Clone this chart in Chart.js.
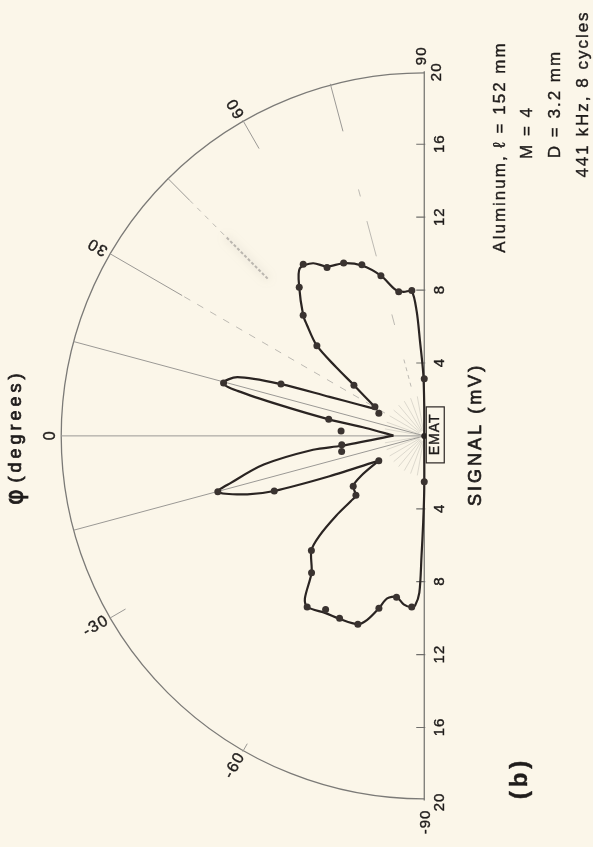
<!DOCTYPE html>
<html>
<head>
<meta charset="utf-8">
<script src="https://cdn.jsdelivr.net/npm/chart.js@4.4.1/dist/chart.umd.min.js"></script>
<style>
  html, body { margin: 0; padding: 0; background: #fbf6e9; }
  canvas { display: block; }
</style>
</head>
<body>
<canvas id="polar" width="593" height="847"></canvas>
<script>
// Measured EMAT directivity: angle phi (degrees) and received signal (mV)
const pointAngles  = [-90, -85.8, -80.2, -75.2, -70.5, -65.0, -60.3, -55.5, -50.4, -45.3, -40.9, -35.2, -28.5, -20.1, -15.1, -10.6, -6.1, 3.4, 9.8, 14.7, 19.8, 26.3, 30.4, 35.7, 39.9, 44.8, 49.8, 54.7, 59.9, 64.9, 69.9, 74.8, 79.9, 85.1, 90];
const pointSignals = [2.52, 9.42, 8.98, 9.78, 10.96, 11.04, 10.97, 11.39, 9.74, 8.84, 4.98, 4.79, 2.85, 8.80, 11.78, 4.63, 4.57, 4.59, 5.34, 11.43, 8.39, 2.79, 3.15, 4.77, 7.71, 9.40, 10.67, 11.54, 10.68, 10.47, 10.00, 9.11, 8.03, 8.01, 3.13];

// Faired curve, drawn as four strokes that meet at the cusps
const lowerWideAngles   = [-90, -90, -89.3, -88.7, -88.2, -86.9, -85.8, -83.0, -80.2, -77.1, -75.2, -72.7, -70.5, -65.0, -60.8, -55.5, -53.6, -50.4, -45.3, -43.5, -42.1, -41.5, -40.9, -35.2, -32.3, -28.5];
const lowerWideSignals  = [0, 2.9, 4.74, 6.57, 8.6, 9.32, 9.43, 9.31, 8.97, 9.15, 9.78, 10.57, 10.96, 11.07, 11.14, 11.39, 11.08, 9.74, 8.84, 7.95, 6.54, 5.39, 4.98, 4.79, 4.14, 2.85];
const lowerNarrowAngles  = [-28.5, -23.0, -20.1, -18.2, -15.1, -13.6, -10.1, -7.1, -6.8, 0.5];
const lowerNarrowSignals = [2.85, 5.67, 8.80, 10.26, 11.78, 10.96, 8.98, 6.17, 4.58, 1.7];
const upperNarrowAngles  = [0.5, 7.7, 9.8, 12.0, 13.5, 14.6, 17.4, 19.8, 22.3, 25.5, 29.2];
const upperNarrowSignals = [1.7, 3.25, 5.33, 8.11, 10.58, 11.47, 10.78, 8.39, 5.64, 3.97, 2.97];
const upperWideAngles   = [29.2, 35.7, 37.8, 39.9, 43.4, 44.8, 49.8, 53.3, 57.1, 60.0, 64.9, 69.8, 74.8, 78.8, 81.8, 85.0, 86.5, 87.4, 89.1, 90, 90];
const upperWideSignals  = [2.97, 4.77, 6.14, 7.71, 8.92, 9.40, 10.67, 11.47, 11.28, 10.73, 10.46, 9.96, 9.11, 8.18, 7.98, 7.97, 6.86, 5.22, 3.41, 1.59, 0];

// Axis ticks and labels
const signalTicks = [4, 8, 12, 16];
const signalMax = 20;
const angleTicks = [-60, -30, 0, 30, 60];
const legendLines = ['Aluminum, \u2113 = 152 mm', 'M = 4', 'D = 3.2 mm', '441 kHz, 8 cycles'];

const DEG = Math.PI / 180;
const PX_PER_MV = 18.4;
const ORIGIN = { x: 426, y: 436 };
const W = 593, H = 847;

function toXY(angles, signals) {
  return angles.map((a, i) => ({ x: -signals[i] * Math.cos(a * DEG), y: signals[i] * Math.sin(a * DEG) }));
}

function polarPx(chart, phi, r) {
  const a = phi * DEG;
  return {
    x: chart.scales.x.getPixelForValue(-r * Math.cos(a)),
    y: chart.scales.y.getPixelForValue(r * Math.sin(a))
  };
}

function spoke(ctx, chart, phi, r1, r2, color, width, dash) {
  const p1 = polarPx(chart, phi, r1), p2 = polarPx(chart, phi, r2);
  ctx.save();
  ctx.strokeStyle = color;
  ctx.lineWidth = width;
  ctx.setLineDash(dash || []);
  ctx.beginPath();
  ctx.moveTo(p1.x, p1.y);
  ctx.lineTo(p2.x, p2.y);
  ctx.stroke();
  ctx.restore();
}

// Rotated label; a thin stroke gives the heavier print weight
function rotText(ctx, txt, x, y, rotDeg, font, spacing, weight) {
  const w = weight === undefined ? 0.4 : weight;
  ctx.save();
  ctx.translate(x, y);
  ctx.rotate(rotDeg * DEG);
  ctx.font = font;
  ctx.letterSpacing = spacing + 'px';
  ctx.textAlign = 'center';
  ctx.textBaseline = 'middle';
  ctx.fillStyle = '#1f1c1b';
  ctx.strokeStyle = '#1f1c1b';
  ctx.fillText(txt, spacing / 2, 0);
  if (w > 0) {
    ctx.lineWidth = w;
    ctx.strokeText(txt, spacing / 2, 0);
  }
  ctx.restore();
}

const FONT = '"Liberation Sans", Arial, Helvetica, sans-serif';

const polarFrame = {
  id: 'polarFrame',
  beforeDraw(chart) {
    const ctx = chart.ctx;
    ctx.save();
    ctx.fillStyle = '#fbf6e9';
    ctx.fillRect(0, 0, chart.width, chart.height);
    ctx.restore();
  },
  beforeDatasetsDraw(chart) {
    const ctx = chart.ctx;
    const o = polarPx(chart, 0, 0);
    const R = o.x - polarPx(chart, 0, signalMax).x;

    // outer arc
    ctx.save();
    ctx.strokeStyle = '#7b7a77';
    ctx.lineWidth = 1.3;
    ctx.beginPath();
    ctx.arc(o.x, o.y, R, Math.PI / 2, Math.PI * 1.5, false);
    ctx.stroke();
    ctx.restore();

    // radial guide lines
    const g = '#9b9995', gl = '#bdbab3';
    spoke(ctx, chart, 0, 0, 20, g, 1);
    spoke(ctx, chart, 15, 0, 20, g, 1);
    spoke(ctx, chart, -15, 0, 20, g, 1);
    spoke(ctx, chart, 30, 15.4, 20, g, 1);
    spoke(ctx, chart, 30, 2.5, 15.4, gl, 1, [7, 8]);
    spoke(ctx, chart, 45, 18.3, 20, g, 1);
    spoke(ctx, chart, 45, 15.6, 18.3, gl, 1, [5, 6]);
    ctx.save();
    ctx.shadowColor = 'rgba(150,148,142,0.8)';
    ctx.shadowBlur = 8;
    spoke(ctx, chart, 45, 12.2, 15.4, 'rgba(165,162,156,0.75)', 2, [3, 2]);
    ctx.restore();
    spoke(ctx, chart, 60, 18.2, 20, g, 1);
    spoke(ctx, chart, 75, 17.3, 20, g, 1);
    spoke(ctx, chart, 75, 13.6, 14.0, gl, 1);
    spoke(ctx, chart, 75, 10.2, 12.2, gl, 1);
    spoke(ctx, chart, 75, 6.3, 6.9, gl, 1);
    spoke(ctx, chart, 75, 2.8, 4.5, gl, 1, [4, 4]);
    spoke(ctx, chart, -30, 19.0, 20, g, 1);
    spoke(ctx, chart, -60, 19.5, 20, g, 1);
    for (let a = -80; a <= 80; a += 10) {
      spoke(ctx, chart, a, 0.3, 2.2, 'rgba(175,172,165,0.5)', 0.8);
    }

    // signal axis along phi = +/-90
    const ax = o.x;
    const yTop = chart.scales.y.getPixelForValue(signalMax);
    const yBot = chart.scales.y.getPixelForValue(-signalMax);
    ctx.save();
    ctx.strokeStyle = '#6f6e6b';
    ctx.lineWidth = 1.2;
    ctx.beginPath();
    ctx.moveTo(ax, yTop);
    ctx.lineTo(ax, yBot);
    signalTicks.forEach(v => {
      [v, -v].forEach(s => {
        const ty = chart.scales.y.getPixelForValue(s);
        ctx.moveTo(ax - 8, ty);
        ctx.lineTo(ax + 1, ty);
      });
    });
    ctx.stroke();
    ctx.restore();

    const tickFont = '15px ' + FONT;
    signalTicks.forEach(v => {
      rotText(ctx, String(v), ax + 16, chart.scales.y.getPixelForValue(v), -90, tickFont, 1);
      rotText(ctx, String(v), ax + 16, chart.scales.y.getPixelForValue(-v), -90, tickFont, 1);
    });
    rotText(ctx, String(signalMax), ax + 13, yTop + 1, -90, tickFont, 1);
    rotText(ctx, String(signalMax), ax + 16, yBot + 2, -90, tickFont, 1);
    rotText(ctx, '90', ax - 2, yTop - 15, -90, tickFont, 1);
    rotText(ctx, '-90', ax + 2, yBot + 22, -90, tickFont, 1);

    // angle labels around the arc
    angleTicks.forEach(a => {
      const txt = String(a);
      const rr = 20.4 + 0.17 * txt.length;
      const p = polarPx(chart, a, rr);
      const rot = a === 0 ? -90 : (a < 0 ? a : a - 180);
      rotText(ctx, txt, p.x, p.y, rot, '16px ' + FONT, 1.5);
    });

    // titles and run description
    rotText(ctx, '\u03c6', 17, 497, -90, '24px "DejaVu Sans", ' + FONT, 0, 0.8);
    rotText(ctx, '(degrees)', 16, 428, -90, '18px ' + FONT, 4, 0.7);
    rotText(ctx, 'SIGNAL (mV)', ax + 52, o.y, -90, '18px ' + FONT, 3, 0.7);
    const legendPos = [[500, 148], [527, 133.5], [555, 105], [583, 95]];
    legendLines.forEach((t, i) => {
      rotText(ctx, t, legendPos[i][0], legendPos[i][1], -90, '17px ' + FONT, 2);
    });
    rotText(ctx, '(b)', 520, 780, -90, 'bold 24px ' + FONT, 4);
  },
  afterDatasetsDraw(chart) {
    const ctx = chart.ctx;
    const o = polarPx(chart, 0, 0);
    // transducer label box
    ctx.save();
    ctx.fillStyle = '#fbf6e9';
    ctx.strokeStyle = '#2a2523';
    ctx.lineWidth = 1.2;
    ctx.fillRect(o.x + 2, o.y - 29, 18, 56);
    ctx.strokeRect(o.x + 2, o.y - 29, 18, 56);
    ctx.restore();
    rotText(ctx, 'EMAT', o.x + 11, o.y - 1, -90, '14px ' + FONT, 1);
  }
};

const curveStyle = {
  showLine: true,
  borderColor: '#2a2422',
  borderWidth: 2.2,
  pointRadius: 0,
  tension: 0.3,
  fill: false,
  clip: false,
  order: 2
};

new Chart(document.getElementById('polar'), {
  type: 'scatter',
  data: {
    datasets: [
      { label: 'measured', data: toXY(pointAngles, pointSignals), pointRadius: 3.5, pointBackgroundColor: '#3a3330', pointBorderColor: '#3a3330', pointBorderWidth: 0, showLine: false, clip: false, order: 0 },
      { label: 'EMAT', data: [{ x: 0, y: 0 }], pointRadius: 3, pointBackgroundColor: '#2a2422', pointBorderWidth: 0, showLine: false, clip: false, order: 1 },
      Object.assign({ label: 'lower wide lobe', data: toXY(lowerWideAngles, lowerWideSignals) }, curveStyle),
      Object.assign({ label: 'lower narrow lobe', data: toXY(lowerNarrowAngles, lowerNarrowSignals) }, curveStyle),
      Object.assign({ label: 'upper narrow lobe', data: toXY(upperNarrowAngles, upperNarrowSignals) }, curveStyle),
      Object.assign({ label: 'upper wide lobe', data: toXY(upperWideAngles, upperWideSignals) }, curveStyle)
    ]
  },
  options: {
    responsive: false,
    animation: false,
    events: [],
    layout: { padding: 0 },
    plugins: { legend: { display: false }, tooltip: { enabled: false } },
    scales: {
      x: { type: 'linear', display: false, min: -ORIGIN.x / PX_PER_MV, max: (W - ORIGIN.x) / PX_PER_MV },
      y: { type: 'linear', display: false, min: -(H - ORIGIN.y) / PX_PER_MV, max: ORIGIN.y / PX_PER_MV }
    }
  },
  plugins: [polarFrame]
});
</script>
</body>
</html>
